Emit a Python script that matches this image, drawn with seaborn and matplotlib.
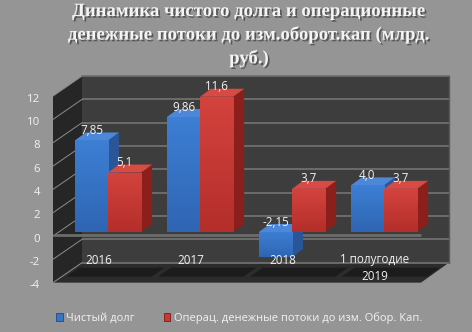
import numpy as np
import pandas as pd
import matplotlib
matplotlib.use("Agg")
import matplotlib.pyplot as plt
import matplotlib.patheffects as pe
from matplotlib.patches import Polygon, Patch
from matplotlib.colors import LinearSegmentedColormap
import seaborn as sns

# ---- data -------------------------------------------------------------
periods = ["2016", "2017", "2018", "1 полугодие\n2019"]
series_names = ["Чистый долг", "Операц. денежные потоки до изм. Обор. Кап."]
net_debt = ["7,85", "9,86", "-2,15", "4,0"]
op_cash_flow = ["5,1", "11,6", "3,7", "3,7"]
y_ticks = [-4, -2, 0, 2, 4, 6, 8, 10, 12]
title = "Динамика чистого долга и операционные\nденежные потоки до изм.оборот.кап (млрд.\nруб.)"


def to_num(s):
    return float(s.replace(",", "."))


df = pd.DataFrame({
    "period": periods * 2,
    "series": [series_names[0]] * len(periods) + [series_names[1]] * len(periods),
    "label": net_debt + op_cash_flow,
})
df["value"] = df["label"].map(to_num)

# ---- styling ----------------------------------------------------------
BG = "#959595"
WALL = "#3d3d3d"
SIDE = "#262626"
FLOOR = "#2c2c2c"
GRID = "#6f6f6f"
TXT = "#f2f2f2"
BLUE = ("#3874c6", "#4d88d8", "#2a5596", "#3d7fd4", "#2f65b3")   # front, top, side, light, dark
RED = ("#c93934", "#d84a44", "#8a1f1c", "#d4433e", "#b42e2a")

sns.set_theme(style="white")
plt.rcParams["font.family"] = ["Open Sans", "DejaVu Sans"]

W, H, DPI = 472, 332, 100
fig = plt.figure(figsize=(W / DPI, H / DPI), dpi=DPI, facecolor=BG)
ax = fig.add_axes([0, 0, 1, 1])
ax.set_facecolor(BG)

# pixel scale of the category / value axes
PX_X, PX_Y = 92.0, 11.66
X0_PX, Y0_PX = 108.0, 232.0
XLIM = ((0 - X0_PX) / PX_X, (W - X0_PX) / PX_X)
YLIM = ((Y0_PX - H) / PX_Y, Y0_PX / PX_Y)

sns.barplot(data=df, x="period", y="value", hue="series", order=periods,
            hue_order=series_names, palette=[BLUE[0], RED[0]], saturation=1,
            width=0.72, gap=0, ax=ax, legend=False, linewidth=0)
ax.set_autoscale_on(False)
ax.set_xlim(*XLIM)
ax.set_ylim(*YLIM)
ax.axis("off")

# ---- 3-D box frame (walls, floor, gridlines) ---------------------------
XL_F, XR_F = (53 - X0_PX) / PX_X, (421 - X0_PX) / PX_X
XL_B, XR_B = (82 - X0_PX) / PX_X, (449 - X0_PX) / PX_X
F_OFF, B_OFF = -4 / PX_Y, 16 / PX_Y
vmin, vmax = y_ticks[0], y_ticks[-1]

ax.add_patch(Polygon([(XL_B, vmin + B_OFF), (XR_B, vmin + B_OFF),
                      (XR_B, vmax + B_OFF), (XL_B, vmax + B_OFF)],
                     closed=True, fc=WALL, ec="none", zorder=0.2))
ax.add_patch(Polygon([(XL_F, vmin + F_OFF), (XL_B, vmin + B_OFF),
                      (XL_B, vmax + B_OFF), (XL_F, vmax + F_OFF)],
                     closed=True, fc=SIDE, ec="none", zorder=0.3))
ax.add_patch(Polygon([(XL_F, vmin + F_OFF), (XR_F, vmin + F_OFF),
                      (XR_B, vmin + B_OFF), (XL_B, vmin + B_OFF)],
                     closed=True, fc=FLOOR, ec="none", zorder=0.3))

# darker slabs on the floor, one per category
t1, t2 = 0.25, 0.7
for i in range(len(periods)):
    xa_b = XL_B + i * (XR_B - XL_B) / 4 + 0.05
    xb_b = XL_B + (i + 1) * (XR_B - XL_B) / 4 - 0.02
    dx = XL_F - XL_B
    dy = F_OFF - B_OFF
    pts = [(xa_b + t1 * dx, vmin + B_OFF + t1 * dy),
           (xb_b + t1 * dx, vmin + B_OFF + t1 * dy),
           (xb_b + t2 * dx, vmin + B_OFF + t2 * dy),
           (xa_b + t2 * dx, vmin + B_OFF + t2 * dy)]
    ax.add_patch(Polygon(pts, closed=True, fc="#1c1c1c", ec="none", zorder=0.35))

for v in y_ticks:
    if v < vmax:
        ax.plot([XL_B, XR_B], [v + B_OFF, v + B_OFF], color=GRID, lw=1.3,
                zorder=0.4, solid_capstyle="butt")
    ax.plot([XL_F, XL_B], [v + F_OFF, v + B_OFF], color="#8c8c8c", lw=0.7,
            zorder=0.45)
    ax.text((40 - X0_PX) / PX_X, v + F_OFF - 3 / PX_Y, str(v), ha="right",
            va="center", fontsize=8.2, color=TXT)

ax.plot([XL_B, XR_B], [vmax + B_OFF, vmax + B_OFF], color="#707070", lw=1.2,
        zorder=0.45)
ax.plot([XR_B, XR_B], [vmin + B_OFF, vmax + B_OFF], color="#5a5a5a", lw=1.0,
        zorder=0.45)
# front edge of the zero plane
ax.plot([XL_F, XR_F], [F_OFF + 0.1, F_OFF + 0.1], color="#6c6c6c", lw=2.0,
        zorder=0.5, solid_capstyle="butt")

# ---- bars as boxes ----------------------------------------------------
DX, DY = 11 / PX_X, 8 / PX_Y
grad = np.linspace(0, 1, 64).reshape(-1, 1)
for k, (cont, cols) in enumerate(zip(ax.containers, [BLUE, RED])):
    base_z = 2 + k
    cmap = LinearSegmentedColormap.from_list("face", [cols[3], cols[4]])
    for bar in cont:
        x0, w = bar.get_x(), bar.get_width()
        y0, h = bar.get_y(), bar.get_height()
        top, bot = max(y0, y0 + h), min(y0, y0 + h)
        bar.set_zorder(base_z + 0.5)
        # shaded front face clipped to the bar rectangle
        im = ax.imshow(grad, cmap=cmap, aspect="auto", extent=(x0, x0 + w, bot, top),
                       origin="upper", zorder=base_z + 0.6, interpolation="bilinear")
        im.set_clip_path(bar)
        side = Polygon([(x0 + w, bot), (x0 + w + DX, bot + DY),
                        (x0 + w + DX, top + DY), (x0 + w, top)],
                       closed=True, fc=cols[2], ec="none", zorder=base_z + 0.3)
        cap = Polygon([(x0, top), (x0 + w, top), (x0 + w + DX, top + DY),
                       (x0 + DX, top + DY)],
                      closed=True, fc=cols[1], ec="none", zorder=base_z + 0.4)
        ax.add_patch(side)
        ax.add_patch(cap)

# value labels
for k, cont in enumerate(ax.containers):
    sub = df[df["series"] == series_names[k]].set_index("period").loc[periods]
    for bar, lab in zip(cont, sub["label"]):
        x0, w = bar.get_x(), bar.get_width()
        y0, h = bar.get_y(), bar.get_height()
        top = max(y0, y0 + h)
        ax.text(x0 + w / 2, top + DY + 2 / PX_Y, lab, ha="center", va="center",
                fontsize=8.4, color=TXT, zorder=6)

# category labels on the floor
for i, p in enumerate(periods):
    n = p.count("\n")
    ax.text(i - 9 / PX_X, (Y0_PX - 260) / PX_Y - n * 0.69, p, ha="center",
            va="center", fontsize=8.4, color=TXT, linespacing=1.4,
            multialignment="center", zorder=6)

ax.set_xlim(*XLIM)
ax.set_ylim(*YLIM)

# ---- title & legend ---------------------------------------------------
fig.text(249 / W, 1 - 3 / H, title, ha="center", va="top", fontsize=13.5,
         fontweight="bold", family="Liberation Serif", color="#f4f4f4",
         linespacing=1.4,
         path_effects=[pe.withSimplePatchShadow(offset=(1.2, -1.2),
                                                shadow_rgbFace="#3a3a3a",
                                                alpha=0.7)])

handles = [Patch(fc=BLUE[0], ec="#1f4a8a", lw=0.6),
           Patch(fc=RED[0], ec="#7a1a18", lw=0.6)]
fig.legend(handles, series_names, loc="center", bbox_to_anchor=(239 / W, 1 - 318 / H),
           ncol=2, frameon=False, fontsize=8.0, handlelength=0.6,
           handleheight=0.6, handletextpad=0.3, columnspacing=2.6,
           labelcolor=TXT)

fig.savefig("out.png", dpi=DPI, facecolor=BG)
